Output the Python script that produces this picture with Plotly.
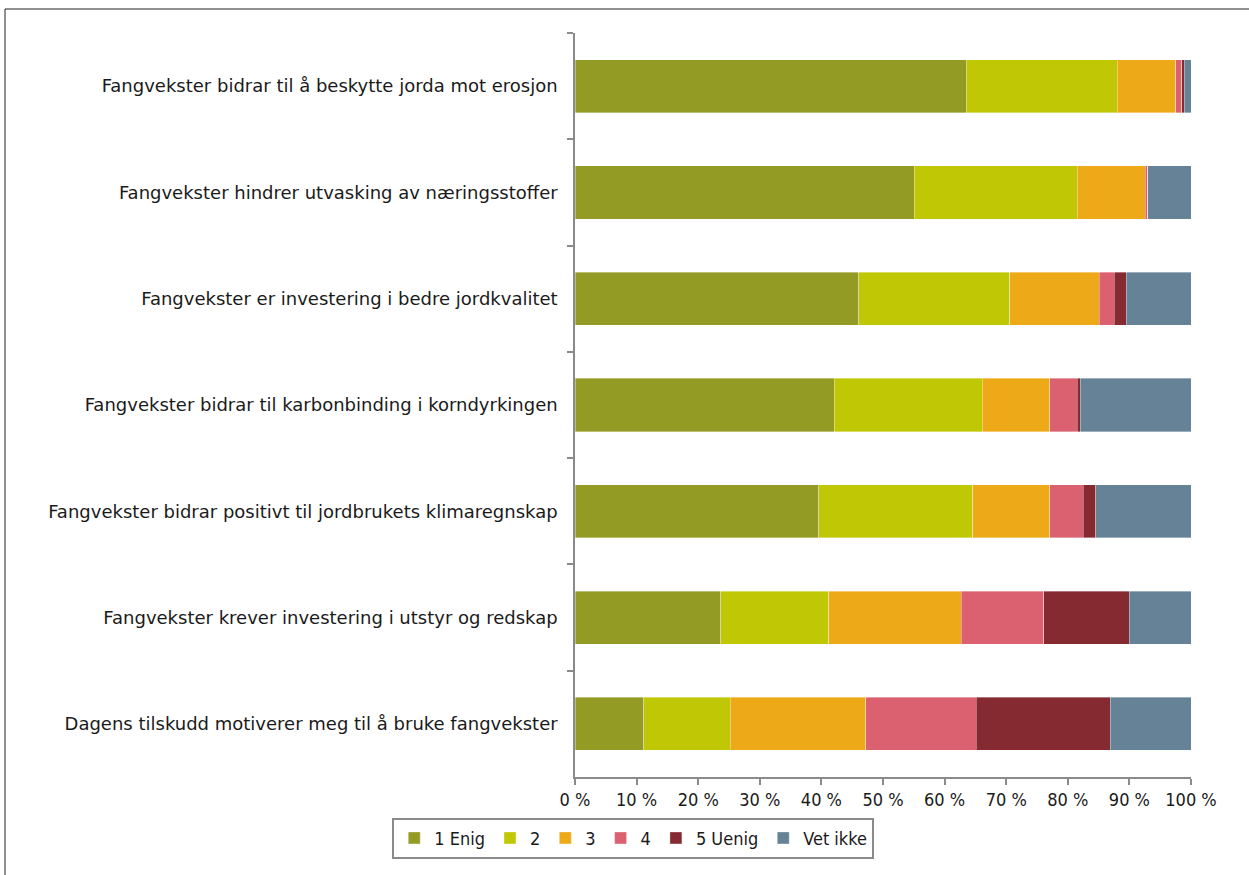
import plotly.graph_objects as go

categories = [
    "Fangvekster bidrar til å beskytte jorda mot erosjon",
    "Fangvekster hindrer utvasking av næringsstoffer",
    "Fangvekster er investering i bedre jordkvalitet",
    "Fangvekster bidrar til karbonbinding i korndyrkingen",
    "Fangvekster bidrar positivt til jordbrukets klimaregnskap",
    "Fangvekster krever investering i utstyr og redskap",
    "Dagens tilskudd motiverer meg til å bruke fangvekster",
]

enig1 = [63.5, 55.1, 46.1, 42.1, 39.6, 23.7, 11.2]
s2 = [24.5, 26.4, 24.5, 24.0, 25.0, 17.5, 14.0]
s3 = [9.5, 11.1, 14.5, 11.0, 12.5, 21.5, 22.0]
s4 = [1.0, 0.4, 2.4, 4.4, 5.4, 13.4, 17.9]
uenig5 = [0.4, 0.0, 2.0, 0.5, 2.0, 13.9, 21.8]
vet_ikke = [1.1, 7.0, 10.5, 18.0, 15.5, 10.0, 13.1]

series_names = ["1 Enig", "2", "3", "4", "5 Uenig", "Vet ikke"]
series_values = [enig1, s2, s3, s4, uenig5, vet_ikke]
colors = ["#939B25", "#C0C705", "#EEA918", "#DB6170", "#852A30", "#668296"]

tick_vals = [0, 10, 20, 30, 40, 50, 60, 70, 80, 90, 100]
tick_text = ["0 %", "10 %", "20 %", "30 %", "40 %", "50 %", "60 %", "70 %", "80 %", "90 %", "100 %"]

FONT = "DejaVu Sans"
FONT_C = "DejaVu Sans Condensed, DejaVu Sans"

fig = go.Figure()
for name, vals, col in zip(series_names, series_values, colors):
    fig.add_trace(go.Bar(
        y=categories, x=vals, name=name, orientation="h",
        marker=dict(color=col, line=dict(color="rgba(255,255,255,0.45)", width=0.8)),
    ))

W, H = 1249, 875
L, R, T, B = 575, 58, 33, 98
pw, ph = W - L - R, H - T - B

fig.update_layout(
    width=W, height=H,
    barmode="stack", bargap=0.5,
    paper_bgcolor="white", plot_bgcolor="white",
    margin=dict(l=L, r=R, t=T, b=B, autoexpand=False),
    font=dict(family=FONT, size=18, color="#1a1a1a"),
    xaxis=dict(
        range=[0, 100], tickvals=tick_vals, ticktext=tick_text,
        showgrid=False, zeroline=False,
        showline=True, linecolor="#8a8a8a", linewidth=1.5,
        ticks="outside", ticklen=6, tickcolor="#8a8a8a", tickwidth=1.5,
        tickfont=dict(family=FONT_C, size=18),
    ),
    yaxis=dict(
        autorange="reversed", showgrid=False, zeroline=False,
        showline=True, linecolor="#8a8a8a", linewidth=1.5,
        ticks="outside", ticklen=6, tickcolor="#8a8a8a", tickwidth=1.5,
        tickson="boundaries", ticklabelstandoff=12,
        tickfont=dict(family=FONT, size=18),
    ),
    legend=dict(
        orientation="h", xref="container", yref="container",
        x=0.507, xanchor="center", y=0.042, yanchor="middle",
        bordercolor="#8a8a8a", borderwidth=2,
        font=dict(family=FONT_C, size=18),
        itemwidth=30, traceorder="normal",
    ),
    shapes=[dict(
        type="rect", xref="paper", yref="paper",
        x0=(5 - L) / pw, x1=1.3, y0=-0.3, y1=1 + (T - 9) / ph,
        line=dict(color="#222222", width=1), fillcolor="rgba(0,0,0,0)",
        layer="above",
    )],
)

fig.write_html(
    "out.html",
    config={"displayModeBar": False},
    post_script="document.body.style.margin='0';",
)
